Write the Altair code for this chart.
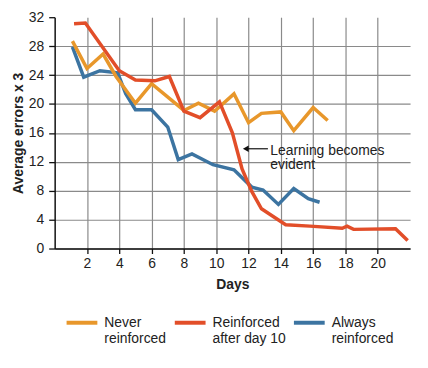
import altair as alt
import pandas as pd

# Data
never_days = [1.1, 2.0, 3.0, 3.8, 5.0, 6.0, 8.0, 8.9, 9.9, 11.1, 12.0, 12.8, 14.0, 14.8, 16.0, 16.9]
never_vals = [28.7, 24.9, 26.9, 23.8, 20.1, 22.8, 19.1, 20.1, 19.0, 21.4, 17.4, 18.7, 18.9, 16.3, 19.5, 17.7]

after_days = [1.2, 1.9, 4.0, 5.0, 6.2, 7.1, 8.0, 9.0, 10.2, 11.0, 11.6, 12.2, 12.8, 14.3, 15.8, 17.8, 18.1, 18.5, 21.1, 21.85]
after_vals = [31.1, 31.2, 24.6, 23.3, 23.2, 23.8, 19.0, 18.1, 20.3, 16.0, 11.0, 7.9, 5.5, 3.3, 3.1, 2.8, 3.1, 2.65, 2.75, 1.1]

always_days = [1.1, 1.8, 2.8, 3.9, 4.4, 5.0, 6.0, 7.0, 7.65, 8.5, 9.8, 11.1, 12.2, 12.9, 13.85, 14.8, 15.7, 16.4]
always_vals = [27.9, 23.7, 24.6, 24.3, 21.4, 19.2, 19.2, 16.8, 12.3, 13.1, 11.6, 10.9, 8.5, 8.1, 6.1, 8.3, 6.9, 6.4]

series_names = ["Never reinforced", "Reinforced after day 10", "Always reinforced"]
series_colors = ["#E8972B", "#E24E29", "#3C74A1"]

x_ticks = [2, 4, 6, 8, 10, 12, 14, 16, 18, 20]
y_ticks = [0, 4, 8, 12, 16, 20, 24, 28, 32]

annot_text = ["Learning becomes", "evident"]
annot_pos = {"x": 13.35, "y": 12.95}
arrow = {"x_tip": 11.83, "x_tail": 13.2, "y": 13.8}

rows = []
for name, ds, vs in [(series_names[0], never_days, never_vals),
                     (series_names[1], after_days, after_vals),
                     (series_names[2], always_days, always_vals)]:
    for i, (d, v) in enumerate(zip(ds, vs)):
        rows.append({"series": name, "day": d, "value": v, "order": i})
df = pd.DataFrame(rows)
draw_order = {series_names[2]: 0, series_names[0]: 1, series_names[1]: 2}
df["z"] = df["series"].map(draw_order)
df = df.sort_values(["z", "order"])

FONT = "Liberation Sans"

x_scale = alt.Scale(domain=[0, 22], nice=False)
y_scale = alt.Scale(domain=[0, 32], nice=False)

x_axis = alt.Axis(title="Days", values=x_ticks, tickCount=40, format="d", grid=True, tickSize=5,
                  labelPadding=3, titlePadding=7, labelOverlap=False)
y_axis = alt.Axis(title="Average errors x 3", values=y_ticks, tickCount=40, format="d", grid=True,
                  tickSize=6, labelPadding=5, titlePadding=3, labelOverlap=False,
                  gridOpacity={"condition": {"test": "datum.value == 32", "value": 0}, "value": 1})

label_expr = ("datum.label == 'Never reinforced' ? ['Never', 'reinforced'] : "
              "datum.label == 'Always reinforced' ? ['Always', 'reinforced'] : "
              "['Reinforced', 'after day 10']")

lines = alt.Chart(df).mark_line(strokeWidth=3.5, strokeJoin="miter").encode(
    x=alt.X("day:Q", scale=x_scale, axis=x_axis),
    y=alt.Y("value:Q", scale=y_scale, axis=y_axis),
    color=alt.Color("series:N",
                    scale=alt.Scale(domain=series_names, range=series_colors),
                    legend=alt.Legend(title=None, orient="none", legendX=10, legendY=290,
                                      direction="horizontal", symbolType="stroke",
                                      symbolSize=961, symbolStrokeWidth=4,
                                      labelExpr=label_expr, labelOffset=5,
                                      columnPadding=0, padding=0, labelBaseline="middle",
                                      labelFontSize=14, labelFont=FONT, labelColor="#222")),
    detail="z:O",
    order="order:Q",
)

arrow_df = pd.DataFrame([arrow])
arrow_line = alt.Chart(arrow_df).mark_rule(color="#111", strokeWidth=1.2).encode(
    x=alt.X("x_tip:Q", scale=x_scale, axis=x_axis), x2="x_tail:Q",
    y=alt.Y("y:Q", scale=y_scale, axis=y_axis))
arrow_head = alt.Chart(arrow_df).mark_point(shape="triangle-left", filled=True, size=45,
                                            color="#111", opacity=1).encode(
    x=alt.X("x_tip:Q", scale=x_scale, axis=x_axis), y=alt.Y("y:Q", scale=y_scale, axis=y_axis))

annot = alt.Chart(pd.DataFrame([annot_pos])).mark_text(
    text=annot_text, align="left", baseline="alphabetic", fontSize=14, font=FONT,
    lineHeight=14.5, color="#222").encode(
    x=alt.X("x:Q", scale=x_scale, axis=x_axis), y=alt.Y("y:Q", scale=y_scale, axis=y_axis))

chart = alt.layer(lines, arrow_line, arrow_head, annot).properties(
    width=358, height=233,
    autosize=alt.AutoSizeParams(type="none"),
    padding={"left": 47, "top": 8, "right": 10, "bottom": 110},
    background="white",
).configure_view(stroke=None).configure_axis(
    gridColor="#8a8a8a", gridWidth=1.2, domainColor="#111", domainWidth=1.5,
    tickColor="#111", tickWidth=1.3, labelFont=FONT, labelFontSize=14,
    labelColor="#222", titleFont=FONT, titleFontSize=14, titleFontWeight="bold",
    titleColor="#222",
)

chart.save("out.html", embed_options={"renderer": "svg", "actions": False})
